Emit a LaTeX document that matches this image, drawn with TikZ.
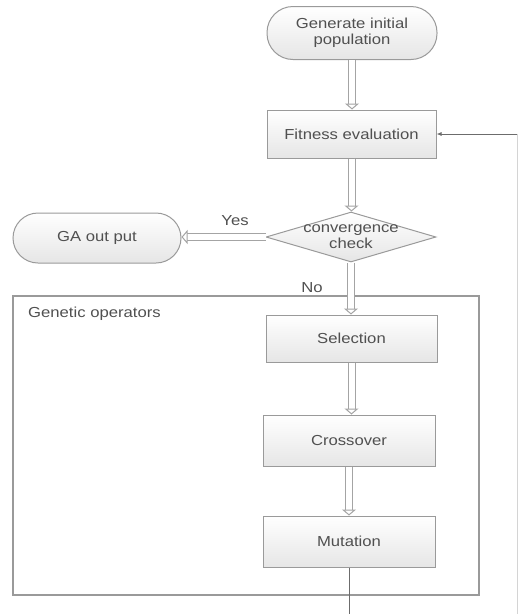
\documentclass[tikz,border=0pt]{standalone}
\usepackage{fontspec}
\setmainfont{Liberation Sans}[FakeStretch=1.15]
\usetikzlibrary{shapes.geometric,arrows.meta}
\definecolor{txt}{HTML}{505050}
\definecolor{edge}{HTML}{9A9A9A}
\definecolor{faint}{HTML}{D4D4D4}
\begin{document}
\begin{tikzpicture}[x=1pt,y=-1pt,
  font=\fontsize{14.5}{16}\selectfont,
  every node/.style={text=txt},
  boxn/.style={draw=edge, line width=1pt, top color=white, bottom color=gray!20,
    inner sep=0pt, align=center},
  term/.style={boxn},
  dia/.style={boxn, diamond, minimum width=170pt, minimum height=50pt},
  dbl/.style={draw=edge!90, line width=1pt, double=white, double distance=6pt,
    -{Triangle[width=14pt,length=6pt,fill=white,line width=1pt]}},
  fb/.style={draw=gray!85!black, line width=0.8pt, -{Latex[length=5pt,width=4pt]}},
  lbl/.style={inner sep=0pt}
]
\useasboundingbox (0,0) rectangle (518,614);

% group frame
\draw[draw=edge, line width=1.2pt] (13,296) rectangle (479,595);
\node[lbl, anchor=west] (gop) at (28,314) {Genetic operators};

\node[term, minimum width=170pt, minimum height=53pt, rounded corners=26pt] (start) at (352,33) {Generate initial\\population};
\node[boxn, minimum width=169pt, minimum height=48pt] (fit) at (351.5,134) {Fitness evaluation};
\node[dia] (conv) at (351,237) {};
\node[lbl, align=center] (convt) at (conv.center) {convergence\\check};
\node[term, minimum width=168pt, minimum height=50pt, rounded corners=25pt] (out) at (97,238) {GA out put};
\node[boxn, minimum width=171pt, minimum height=47pt] (sel) at (351.5,338.5) {Selection};
\node[boxn, minimum width=172pt, minimum height=51pt] (cro) at (349,440.5) {Crossover};
\node[boxn, minimum width=172pt, minimum height=51pt] (mut) at (349,541.5) {Mutation};

\node[lbl] (yes) at (235,221) {Yes};
\node[lbl] (no) at (312,288) {No};

% double arrows
\draw[dbl] (start.south) -- (start.south |- fit.north);
\draw[dbl] (fit.south) -- (fit.south |- conv.north);
\draw[dbl] (conv.west) -- (out.east |- conv.west);
\draw[dbl] (conv.south) -- (conv.south |- sel.north);
\draw[dbl] (sel.south) -- (sel.south |- cro.north);
\draw[dbl] (cro.south) -- (cro.south |- mut.north);

% feedback loop
\coordinate (mb) at (349,614);
\coordinate (cb) at (517,614);
\coordinate (cr) at (517,134);
\draw[draw=gray!85!black, line width=0.8pt] (mut.south) -- (mb);
\draw[draw=faint, line width=0.8pt] (cb) -- (cr);
\draw[fb] (cr) -- (fit.east);
\end{tikzpicture}
\end{document}
